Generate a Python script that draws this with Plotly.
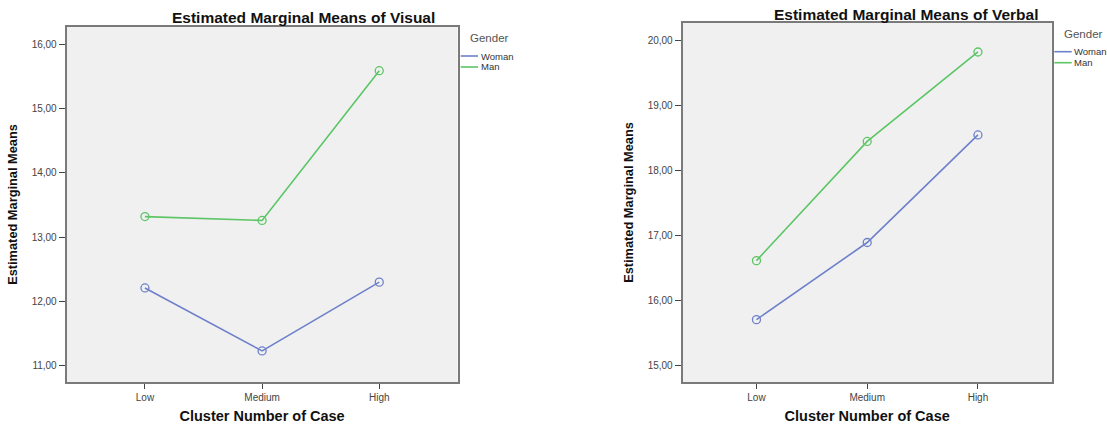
import plotly.graph_objects as go

categories = ["Low", "Medium", "High"]
genders = ["Woman", "Man"]
visual_woman = [12.21, 11.23, 12.30]
visual_man = [13.32, 13.26, 15.59]
verbal_woman = [15.70, 16.89, 18.55]
verbal_man = [16.61, 18.45, 19.83]
visual_ticks = [11, 12, 13, 14, 15, 16]
verbal_ticks = [15, 16, 17, 18, 19, 20]

W, H = 1107, 426
COLORS = {"Woman": "#6e80ca", "Man": "#5cc565"}
FONT = "Liberation Sans, Arial, sans-serif"


def px(x):
    return x / W


def py(y):
    return 1 - y / H


fig = go.Figure()
xi = list(range(len(categories)))


def add_panel(series, xa, ya):
    for name, vals in zip(genders, series):
        col = COLORS[name]
        fig.add_trace(go.Scatter(
            x=xi, y=vals, mode="lines+markers", name=name,
            line=dict(color=col, width=1.6),
            marker=dict(symbol="circle-open", size=8, color=col, line=dict(width=1.3)),
            xaxis=xa, yaxis=ya, showlegend=False,
            customdata=[categories[i] for i in xi],
            hovertemplate="%{customdata}: %{y:.2f}<extra>" + name + "</extra>"))


add_panel([visual_woman, visual_man], "x", "y")
add_panel([verbal_woman, verbal_man], "x2", "y2")


def fmt(v):
    return f"{v:.2f}".replace(".", ",")


axis_common = dict(showline=True, mirror=True, linecolor="#7a7a7a", linewidth=2,
                   showgrid=False, zeroline=False, ticks="outside",
                   tickcolor="#444", tickwidth=1,
                   tickfont=dict(family=FONT, size=10, color="#444"))

xtitle = dict(text="<b>Cluster Number of Case</b>", font=dict(family=FONT, size=14.5, color="#111"), standoff=9)
ytitle = dict(text="<b>Estimated Marginal Means</b>", font=dict(family=FONT, size=12.8, color="#111"), standoff=11)

fig.update_layout(
    width=W, height=H, margin=dict(l=0, r=0, t=0, b=0),
    paper_bgcolor="white", plot_bgcolor="#f0f0f0",
    font=dict(family=FONT), showlegend=False,
    xaxis=dict(domain=[px(66.7), px(457.5)], range=[-0.668, 2.668], tickvals=xi, ticklen=5,
               ticktext=categories, title=xtitle, anchor="y", **axis_common),
    yaxis=dict(domain=[py(382.3), py(26.7)], range=[10.742, 16.274], tickvals=visual_ticks, ticklen=6,
               ticktext=[fmt(v) for v in visual_ticks], title=ytitle, anchor="x", **axis_common),
    xaxis2=dict(domain=[px(682.7), px(1051.7)], range=[-0.666, 2.666], tickvals=xi, ticklen=5,
                ticktext=categories, title=xtitle, anchor="y2", **axis_common),
    yaxis2=dict(domain=[py(382.3), py(22.7)], range=[14.733, 20.282], tickvals=verbal_ticks, ticklen=6,
                ticktext=[fmt(v) for v in verbal_ticks], title=ytitle, anchor="x2", **axis_common),
)

annotations = [
    dict(text="<b>Estimated Marginal Means of Visual</b>", x=px(303), y=py(17),
         xanchor="center", font=dict(family=FONT, size=15.5, color="#111")),
    dict(text="<b>Estimated Marginal Means of Verbal</b>", x=px(906), y=py(14),
         xanchor="center", font=dict(family=FONT, size=15.5, color="#111")),
]
shapes = []

# Manual legends (Gender), one per panel
for gx, gy, lx0, lx1, ly in ((467.7, 38, 460.7, 478, 56), (1062.3, 34.3, 1054.3, 1071.7, 51.7)):
    annotations.append(dict(text="Gender", x=px(gx), y=py(gy), xanchor="left",
                            font=dict(family=FONT, size=11.5, color="#555")))
    for k, name in enumerate(genders):
        yy = ly + 11 * k
        shapes.append(dict(type="line", xref="paper", yref="paper",
                           x0=px(lx0), x1=px(lx1), y0=py(yy), y1=py(yy),
                           line=dict(color=COLORS[name], width=1.6)))
        annotations.append(dict(text=name, x=px(lx1 + 0.5), y=py(yy), xanchor="left",
                                font=dict(family=FONT, size=9.5, color="#333")))

for a in annotations:
    a.update(xref="paper", yref="paper", showarrow=False, yanchor="middle")

fig.update_layout(annotations=annotations, shapes=shapes)

fig.write_html(
    "out.html",
    config={"displayModeBar": False},
    post_script="document.body.style.margin='0';document.body.style.padding='0';"
                "document.body.style.overflow='hidden';",
)
